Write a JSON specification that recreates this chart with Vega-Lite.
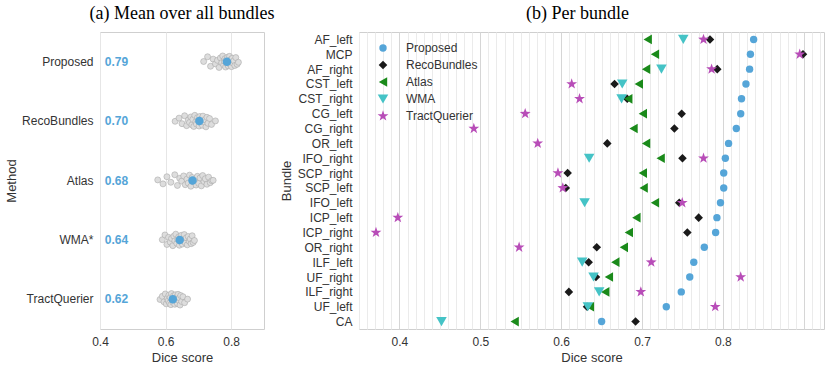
{
  "$schema": "https://vega.github.io/schema/vega-lite/v6.json",
  "padding": {"left": 5, "top": 4, "right": 0, "bottom": 0},
  "background": "white",
  "config": {
    "font": "Liberation Sans",
    "view": {"stroke": "#cfcfcf", "strokeWidth": 1},
    "axis": {"labelColor": "#333333", "titleColor": "#333333", "titleFontWeight": "normal", "labelFontSize": 12, "titleFontSize": 13, "domain": false, "ticks": false, "labelFont": "Liberation Sans", "titleFont": "Liberation Sans"},
    "title": {"font": "Liberation Serif", "fontSize": 18, "fontWeight": "normal", "color": "#000000", "offset": 9}
  },
  "resolve": {"legend": {"color": "independent", "shape": "independent", "size": "independent"}, "scale": {"color": "independent", "shape": "independent", "size": "independent"}},
  "datasets": {
    "means": [
      {"method": "Proposed", "mean": 0.787},
      {"method": "RecoBundles", "mean": 0.703},
      {"method": "Atlas", "mean": 0.682},
      {"method": "WMA*", "mean": 0.643},
      {"method": "TractQuerier", "mean": 0.622}
    ],
    "subjects": [
      {"method": "Proposed", "s": 15, "dice": 0.716}, {"method": "Proposed", "s": 3, "dice": 0.728}, {"method": "Proposed", "s": 27, "dice": 0.737}, {"method": "Proposed", "s": 9, "dice": 0.745}, {"method": "Proposed", "s": 21, "dice": 0.752}, {"method": "Proposed", "s": 12, "dice": 0.758}, {"method": "Proposed", "s": 30, "dice": 0.763}, {"method": "Proposed", "s": 6, "dice": 0.767}, {"method": "Proposed", "s": 18, "dice": 0.771}, {"method": "Proposed", "s": 1, "dice": 0.774}, {"method": "Proposed", "s": 24, "dice": 0.777}, {"method": "Proposed", "s": 14, "dice": 0.779}, {"method": "Proposed", "s": 8, "dice": 0.781}, {"method": "Proposed", "s": 29, "dice": 0.783}, {"method": "Proposed", "s": 11, "dice": 0.785}, {"method": "Proposed", "s": 20, "dice": 0.787}, {"method": "Proposed", "s": 4, "dice": 0.789}, {"method": "Proposed", "s": 26, "dice": 0.791}, {"method": "Proposed", "s": 16, "dice": 0.793}, {"method": "Proposed", "s": 2, "dice": 0.795}, {"method": "Proposed", "s": 23, "dice": 0.797}, {"method": "Proposed", "s": 10, "dice": 0.799}, {"method": "Proposed", "s": 28, "dice": 0.801}, {"method": "Proposed", "s": 7, "dice": 0.803}, {"method": "Proposed", "s": 19, "dice": 0.805}, {"method": "Proposed", "s": 13, "dice": 0.808}, {"method": "Proposed", "s": 25, "dice": 0.811}, {"method": "Proposed", "s": 5, "dice": 0.814}, {"method": "Proposed", "s": 22, "dice": 0.818}, {"method": "Proposed", "s": 17, "dice": 0.822},
      {"method": "RecoBundles", "s": 16, "dice": 0.629}, {"method": "RecoBundles", "s": 8, "dice": 0.641}, {"method": "RecoBundles", "s": 22, "dice": 0.65}, {"method": "RecoBundles", "s": 2, "dice": 0.658}, {"method": "RecoBundles", "s": 27, "dice": 0.664}, {"method": "RecoBundles", "s": 13, "dice": 0.669}, {"method": "RecoBundles", "s": 19, "dice": 0.673}, {"method": "RecoBundles", "s": 5, "dice": 0.677}, {"method": "RecoBundles", "s": 25, "dice": 0.68}, {"method": "RecoBundles", "s": 11, "dice": 0.683}, {"method": "RecoBundles", "s": 29, "dice": 0.686}, {"method": "RecoBundles", "s": 1, "dice": 0.689}, {"method": "RecoBundles", "s": 17, "dice": 0.692}, {"method": "RecoBundles", "s": 23, "dice": 0.694}, {"method": "RecoBundles", "s": 7, "dice": 0.697}, {"method": "RecoBundles", "s": 14, "dice": 0.699}, {"method": "RecoBundles", "s": 28, "dice": 0.702}, {"method": "RecoBundles", "s": 4, "dice": 0.704}, {"method": "RecoBundles", "s": 20, "dice": 0.707}, {"method": "RecoBundles", "s": 10, "dice": 0.709}, {"method": "RecoBundles", "s": 26, "dice": 0.712}, {"method": "RecoBundles", "s": 3, "dice": 0.714}, {"method": "RecoBundles", "s": 18, "dice": 0.717}, {"method": "RecoBundles", "s": 12, "dice": 0.72}, {"method": "RecoBundles", "s": 30, "dice": 0.723}, {"method": "RecoBundles", "s": 6, "dice": 0.726}, {"method": "RecoBundles", "s": 21, "dice": 0.729}, {"method": "RecoBundles", "s": 9, "dice": 0.734}, {"method": "RecoBundles", "s": 24, "dice": 0.74}, {"method": "RecoBundles", "s": 15, "dice": 0.752},
      {"method": "Atlas", "s": 14, "dice": 0.576}, {"method": "Atlas", "s": 24, "dice": 0.592}, {"method": "Atlas", "s": 6, "dice": 0.604}, {"method": "Atlas", "s": 20, "dice": 0.616}, {"method": "Atlas", "s": 1, "dice": 0.628}, {"method": "Atlas", "s": 28, "dice": 0.636}, {"method": "Atlas", "s": 10, "dice": 0.643}, {"method": "Atlas", "s": 17, "dice": 0.649}, {"method": "Atlas", "s": 4, "dice": 0.655}, {"method": "Atlas", "s": 26, "dice": 0.66}, {"method": "Atlas", "s": 12, "dice": 0.665}, {"method": "Atlas", "s": 22, "dice": 0.669}, {"method": "Atlas", "s": 2, "dice": 0.673}, {"method": "Atlas", "s": 30, "dice": 0.677}, {"method": "Atlas", "s": 8, "dice": 0.681}, {"method": "Atlas", "s": 19, "dice": 0.685}, {"method": "Atlas", "s": 13, "dice": 0.689}, {"method": "Atlas", "s": 27, "dice": 0.693}, {"method": "Atlas", "s": 5, "dice": 0.697}, {"method": "Atlas", "s": 23, "dice": 0.701}, {"method": "Atlas", "s": 9, "dice": 0.705}, {"method": "Atlas", "s": 29, "dice": 0.709}, {"method": "Atlas", "s": 3, "dice": 0.713}, {"method": "Atlas", "s": 18, "dice": 0.717}, {"method": "Atlas", "s": 11, "dice": 0.721}, {"method": "Atlas", "s": 25, "dice": 0.726}, {"method": "Atlas", "s": 7, "dice": 0.731}, {"method": "Atlas", "s": 21, "dice": 0.736}, {"method": "Atlas", "s": 16, "dice": 0.741}, {"method": "Atlas", "s": 15, "dice": 0.745},
      {"method": "WMA*", "s": 15, "dice": 0.59}, {"method": "WMA*", "s": 3, "dice": 0.598}, {"method": "WMA*", "s": 27, "dice": 0.604}, {"method": "WMA*", "s": 9, "dice": 0.609}, {"method": "WMA*", "s": 21, "dice": 0.614}, {"method": "WMA*", "s": 12, "dice": 0.618}, {"method": "WMA*", "s": 30, "dice": 0.622}, {"method": "WMA*", "s": 6, "dice": 0.625}, {"method": "WMA*", "s": 18, "dice": 0.628}, {"method": "WMA*", "s": 1, "dice": 0.631}, {"method": "WMA*", "s": 24, "dice": 0.634}, {"method": "WMA*", "s": 14, "dice": 0.637}, {"method": "WMA*", "s": 8, "dice": 0.64}, {"method": "WMA*", "s": 29, "dice": 0.642}, {"method": "WMA*", "s": 11, "dice": 0.644}, {"method": "WMA*", "s": 20, "dice": 0.646}, {"method": "WMA*", "s": 4, "dice": 0.648}, {"method": "WMA*", "s": 26, "dice": 0.651}, {"method": "WMA*", "s": 16, "dice": 0.654}, {"method": "WMA*", "s": 2, "dice": 0.657}, {"method": "WMA*", "s": 23, "dice": 0.66}, {"method": "WMA*", "s": 10, "dice": 0.663}, {"method": "WMA*", "s": 28, "dice": 0.666}, {"method": "WMA*", "s": 7, "dice": 0.669}, {"method": "WMA*", "s": 19, "dice": 0.672}, {"method": "WMA*", "s": 13, "dice": 0.675}, {"method": "WMA*", "s": 25, "dice": 0.678}, {"method": "WMA*", "s": 5, "dice": 0.681}, {"method": "WMA*", "s": 22, "dice": 0.684}, {"method": "WMA*", "s": 17, "dice": 0.688},
      {"method": "TractQuerier", "s": 16, "dice": 0.583}, {"method": "TractQuerier", "s": 8, "dice": 0.59}, {"method": "TractQuerier", "s": 22, "dice": 0.595}, {"method": "TractQuerier", "s": 2, "dice": 0.599}, {"method": "TractQuerier", "s": 27, "dice": 0.602}, {"method": "TractQuerier", "s": 13, "dice": 0.605}, {"method": "TractQuerier", "s": 19, "dice": 0.608}, {"method": "TractQuerier", "s": 5, "dice": 0.61}, {"method": "TractQuerier", "s": 25, "dice": 0.612}, {"method": "TractQuerier", "s": 11, "dice": 0.614}, {"method": "TractQuerier", "s": 29, "dice": 0.616}, {"method": "TractQuerier", "s": 1, "dice": 0.618}, {"method": "TractQuerier", "s": 17, "dice": 0.62}, {"method": "TractQuerier", "s": 23, "dice": 0.622}, {"method": "TractQuerier", "s": 7, "dice": 0.624}, {"method": "TractQuerier", "s": 14, "dice": 0.626}, {"method": "TractQuerier", "s": 28, "dice": 0.628}, {"method": "TractQuerier", "s": 4, "dice": 0.63}, {"method": "TractQuerier", "s": 20, "dice": 0.632}, {"method": "TractQuerier", "s": 10, "dice": 0.634}, {"method": "TractQuerier", "s": 26, "dice": 0.636}, {"method": "TractQuerier", "s": 3, "dice": 0.638}, {"method": "TractQuerier", "s": 18, "dice": 0.64}, {"method": "TractQuerier", "s": 12, "dice": 0.642}, {"method": "TractQuerier", "s": 30, "dice": 0.644}, {"method": "TractQuerier", "s": 6, "dice": 0.646}, {"method": "TractQuerier", "s": 21, "dice": 0.649}, {"method": "TractQuerier", "s": 9, "dice": 0.653}, {"method": "TractQuerier", "s": 24, "dice": 0.658}, {"method": "TractQuerier", "s": 15, "dice": 0.667}
    ],
    "bundles": [
      {"bundle": "AF_left", "method": "Proposed", "dice": 0.838},
      {"bundle": "MCP", "method": "Proposed", "dice": 0.834},
      {"bundle": "AF_right", "method": "Proposed", "dice": 0.833},
      {"bundle": "CST_left", "method": "Proposed", "dice": 0.8285},
      {"bundle": "CST_right", "method": "Proposed", "dice": 0.823},
      {"bundle": "CG_left", "method": "Proposed", "dice": 0.822},
      {"bundle": "CG_right", "method": "Proposed", "dice": 0.8166},
      {"bundle": "OR_left", "method": "Proposed", "dice": 0.807},
      {"bundle": "IFO_right", "method": "Proposed", "dice": 0.803},
      {"bundle": "SCP_right", "method": "Proposed", "dice": 0.801},
      {"bundle": "SCP_left", "method": "Proposed", "dice": 0.801},
      {"bundle": "IFO_left", "method": "Proposed", "dice": 0.797},
      {"bundle": "ICP_left", "method": "Proposed", "dice": 0.7926},
      {"bundle": "ICP_right", "method": "Proposed", "dice": 0.791},
      {"bundle": "OR_right", "method": "Proposed", "dice": 0.777},
      {"bundle": "ILF_left", "method": "Proposed", "dice": 0.764},
      {"bundle": "UF_right", "method": "Proposed", "dice": 0.759},
      {"bundle": "ILF_right", "method": "Proposed", "dice": 0.7485},
      {"bundle": "UF_left", "method": "Proposed", "dice": 0.73},
      {"bundle": "CA", "method": "Proposed", "dice": 0.65},
      {"bundle": "AF_left", "method": "RecoBundles", "dice": 0.784},
      {"bundle": "MCP", "method": "RecoBundles", "dice": 0.899},
      {"bundle": "AF_right", "method": "RecoBundles", "dice": 0.793},
      {"bundle": "CST_left", "method": "RecoBundles", "dice": 0.666},
      {"bundle": "CST_right", "method": "RecoBundles", "dice": 0.6817},
      {"bundle": "CG_left", "method": "RecoBundles", "dice": 0.749},
      {"bundle": "CG_right", "method": "RecoBundles", "dice": 0.74},
      {"bundle": "OR_left", "method": "RecoBundles", "dice": 0.657},
      {"bundle": "IFO_right", "method": "RecoBundles", "dice": 0.75},
      {"bundle": "SCP_right", "method": "RecoBundles", "dice": 0.608},
      {"bundle": "SCP_left", "method": "RecoBundles", "dice": 0.6057},
      {"bundle": "IFO_left", "method": "RecoBundles", "dice": 0.746},
      {"bundle": "ICP_left", "method": "RecoBundles", "dice": 0.77},
      {"bundle": "ICP_right", "method": "RecoBundles", "dice": 0.756},
      {"bundle": "OR_right", "method": "RecoBundles", "dice": 0.644},
      {"bundle": "ILF_left", "method": "RecoBundles", "dice": 0.634},
      {"bundle": "UF_right", "method": "RecoBundles", "dice": 0.643},
      {"bundle": "ILF_right", "method": "RecoBundles", "dice": 0.6095},
      {"bundle": "UF_left", "method": "RecoBundles", "dice": 0.632},
      {"bundle": "CA", "method": "RecoBundles", "dice": 0.692},
      {"bundle": "AF_left", "method": "Atlas", "dice": 0.707},
      {"bundle": "MCP", "method": "Atlas", "dice": 0.716},
      {"bundle": "AF_right", "method": "Atlas", "dice": 0.705},
      {"bundle": "CST_left", "method": "Atlas", "dice": 0.696},
      {"bundle": "CST_right", "method": "Atlas", "dice": 0.683},
      {"bundle": "CG_left", "method": "Atlas", "dice": 0.701},
      {"bundle": "CG_right", "method": "Atlas", "dice": 0.6895},
      {"bundle": "OR_left", "method": "Atlas", "dice": 0.705},
      {"bundle": "IFO_right", "method": "Atlas", "dice": 0.723},
      {"bundle": "SCP_right", "method": "Atlas", "dice": 0.701},
      {"bundle": "SCP_left", "method": "Atlas", "dice": 0.702},
      {"bundle": "IFO_left", "method": "Atlas", "dice": 0.716},
      {"bundle": "ICP_left", "method": "Atlas", "dice": 0.693},
      {"bundle": "ICP_right", "method": "Atlas", "dice": 0.6837},
      {"bundle": "OR_right", "method": "Atlas", "dice": 0.6775},
      {"bundle": "ILF_left", "method": "Atlas", "dice": 0.667},
      {"bundle": "UF_right", "method": "Atlas", "dice": 0.659},
      {"bundle": "ILF_right", "method": "Atlas", "dice": 0.6545},
      {"bundle": "UF_left", "method": "Atlas", "dice": 0.6355},
      {"bundle": "CA", "method": "Atlas", "dice": 0.5425},
      {"bundle": "AF_left", "method": "WMA", "dice": 0.751},
      {"bundle": "AF_right", "method": "WMA", "dice": 0.724},
      {"bundle": "CST_left", "method": "WMA", "dice": 0.6755},
      {"bundle": "CST_right", "method": "WMA", "dice": 0.6747},
      {"bundle": "IFO_right", "method": "WMA", "dice": 0.6346},
      {"bundle": "IFO_left", "method": "WMA", "dice": 0.629},
      {"bundle": "ILF_left", "method": "WMA", "dice": 0.626},
      {"bundle": "UF_right", "method": "WMA", "dice": 0.64},
      {"bundle": "ILF_right", "method": "WMA", "dice": 0.647},
      {"bundle": "UF_left", "method": "WMA", "dice": 0.633},
      {"bundle": "CA", "method": "WMA", "dice": 0.452},
      {"bundle": "AF_left", "method": "TractQuerier", "dice": 0.776},
      {"bundle": "MCP", "method": "TractQuerier", "dice": 0.895},
      {"bundle": "AF_right", "method": "TractQuerier", "dice": 0.786},
      {"bundle": "CST_left", "method": "TractQuerier", "dice": 0.613},
      {"bundle": "CST_right", "method": "TractQuerier", "dice": 0.6227},
      {"bundle": "CG_left", "method": "TractQuerier", "dice": 0.5555},
      {"bundle": "CG_right", "method": "TractQuerier", "dice": 0.492},
      {"bundle": "OR_left", "method": "TractQuerier", "dice": 0.571},
      {"bundle": "IFO_right", "method": "TractQuerier", "dice": 0.776},
      {"bundle": "SCP_right", "method": "TractQuerier", "dice": 0.596},
      {"bundle": "SCP_left", "method": "TractQuerier", "dice": 0.602},
      {"bundle": "IFO_left", "method": "TractQuerier", "dice": 0.7497},
      {"bundle": "ICP_left", "method": "TractQuerier", "dice": 0.398},
      {"bundle": "ICP_right", "method": "TractQuerier", "dice": 0.371},
      {"bundle": "OR_right", "method": "TractQuerier", "dice": 0.548},
      {"bundle": "ILF_left", "method": "TractQuerier", "dice": 0.7114},
      {"bundle": "UF_right", "method": "TractQuerier", "dice": 0.822},
      {"bundle": "ILF_right", "method": "TractQuerier", "dice": 0.6985},
      {"bundle": "UF_left", "method": "TractQuerier", "dice": 0.7905}
    ]
  },
  "spacing": 4,
  "hconcat": [
    {
      "width": 164,
      "height": 297,
      "title": {"text": "(a) Mean over all bundles"},
      "layer": [
        {
          "data": {"name": "subjects"},
          "mark": {"type": "circle", "size": 36, "fill": "#dddddd", "stroke": "#a9a9a9", "strokeWidth": 0.6, "opacity": 1},
          "encoding": {
            "x": {"field": "dice", "type": "quantitative", "scale": {"domain": [0.4, 0.9], "nice": false, "zero": false},
              "axis": {"title": "Dice score", "values": [0.4, 0.45, 0.5, 0.55, 0.6, 0.65, 0.7, 0.75, 0.8, 0.85, 0.9], "labelExpr": "abs(datum.value*10 - round(datum.value*10)) < 0.001 && datum.value < 0.85 ? format(datum.value, '.1f') : ''", "labelOverlap": false, "labelFlush": false, "grid": true, "gridColor": "#e6e6e6", "labelPadding": 7, "titlePadding": 4}},
            "y": {"field": "method", "type": "nominal", "sort": null, "scale": {"domain": ["Proposed", "RecoBundles", "Atlas", "WMA*", "TractQuerier"], "paddingInner": 0.8, "paddingOuter": 0.4},
              "axis": {"title": "Method", "grid": false, "labelPadding": 7, "titlePadding": 3}},
            "yOffset": {"field": "s", "type": "nominal", "sort": "ascending"}
          }
        },
        {
          "data": {"name": "means"},
          "mark": {"type": "circle", "size": 72, "color": "#55a5d8", "opacity": 1},
          "encoding": {
            "x": {"field": "mean", "type": "quantitative"},
            "y": {"field": "method", "type": "nominal", "sort": null}
          }
        },
        {
          "data": {"name": "means"},
          "mark": {"type": "text", "fontWeight": "bold", "fontSize": 12, "color": "#55a5d8", "font": "Liberation Sans"},
          "encoding": {
            "x": {"datum": 0.45},
            "y": {"field": "method", "type": "nominal", "sort": null},
            "text": {"field": "mean", "type": "quantitative", "format": ".2f"}
          }
        }
      ]
    },
    {
      "width": 465,
      "height": 297,
      "title": {"text": "(b) Per bundle", "dx": -14},
      "data": {"name": "bundles"},
      "mark": {"type": "point", "filled": true, "opacity": 1, "strokeWidth": 0},
      "encoding": {
        "x": {"field": "dice", "type": "quantitative", "scale": {"domain": [0.35, 0.925], "nice": false, "zero": false},
          "axis": {"title": "Dice score", "values": [0.35, 0.36, 0.37, 0.38, 0.39, 0.4, 0.41, 0.42, 0.43, 0.44, 0.45, 0.46, 0.47, 0.48, 0.49, 0.5, 0.51, 0.52, 0.53, 0.54, 0.55, 0.56, 0.57, 0.58, 0.59, 0.6, 0.61, 0.62, 0.63, 0.64, 0.65, 0.66, 0.67, 0.68, 0.69, 0.7, 0.71, 0.72, 0.73, 0.74, 0.75, 0.76, 0.77, 0.78, 0.79, 0.8, 0.81, 0.82, 0.83, 0.84, 0.85, 0.86, 0.87, 0.88, 0.89, 0.9, 0.91, 0.92],
            "labelExpr": "abs(datum.value*10 - round(datum.value*10)) < 0.001 && datum.value < 0.85 ? format(datum.value, '.1f') : ''", "labelOverlap": false, "labelFlush": false, "grid": true,
            "gridColor": {"condition": {"test": "abs(datum.value*10 - round(datum.value*10)) < 0.001", "value": "#d6d6d6"}, "value": "#ebebeb"},
            "labelPadding": 7, "titlePadding": 4}},
        "y": {"field": "bundle", "type": "nominal", "sort": null,
          "scale": {"type": "point", "padding": 0.5, "domain": ["AF_left", "MCP", "AF_right", "CST_left", "CST_right", "CG_left", "CG_right", "OR_left", "IFO_right", "SCP_right", "SCP_left", "IFO_left", "ICP_left", "ICP_right", "OR_right", "ILF_left", "UF_right", "ILF_right", "UF_left", "CA"]},
          "axis": {"title": "Bundle", "grid": false, "labelPadding": 7, "titlePadding": 4}},
        "color": {"field": "method", "type": "nominal",
          "scale": {"domain": ["Proposed", "RecoBundles", "Atlas", "WMA", "TractQuerier"], "range": ["#55a5d8", "#1a1a1a", "#1a8a1a", "#45c3c6", "#b84db8"]},
          "legend": {"title": null, "orient": "none", "legendX": 18, "legendY": 10, "padding": 0, "labelFontSize": 12, "labelColor": "#333333", "labelFont": "Liberation Sans", "labelOffset": 17, "rowPadding": 5, "symbolStrokeWidth": 0}},
        "shape": {"field": "method", "type": "nominal",
          "scale": {"domain": ["Proposed", "RecoBundles", "Atlas", "WMA", "TractQuerier"], "range": ["circle", "diamond", "triangle-left", "triangle-down", "M0,-1L0.235,-0.324L0.951,-0.309L0.38,0.124L0.588,0.809L0,0.4L-0.588,0.809L-0.38,0.124L-0.951,-0.309L-0.235,-0.324Z"]}},
        "size": {"field": "method", "type": "nominal",
          "scale": {"domain": ["Proposed", "RecoBundles", "Atlas", "WMA", "TractQuerier"], "range": [55, 130, 75, 70, 75]}}
      }
    }
  ]
}
